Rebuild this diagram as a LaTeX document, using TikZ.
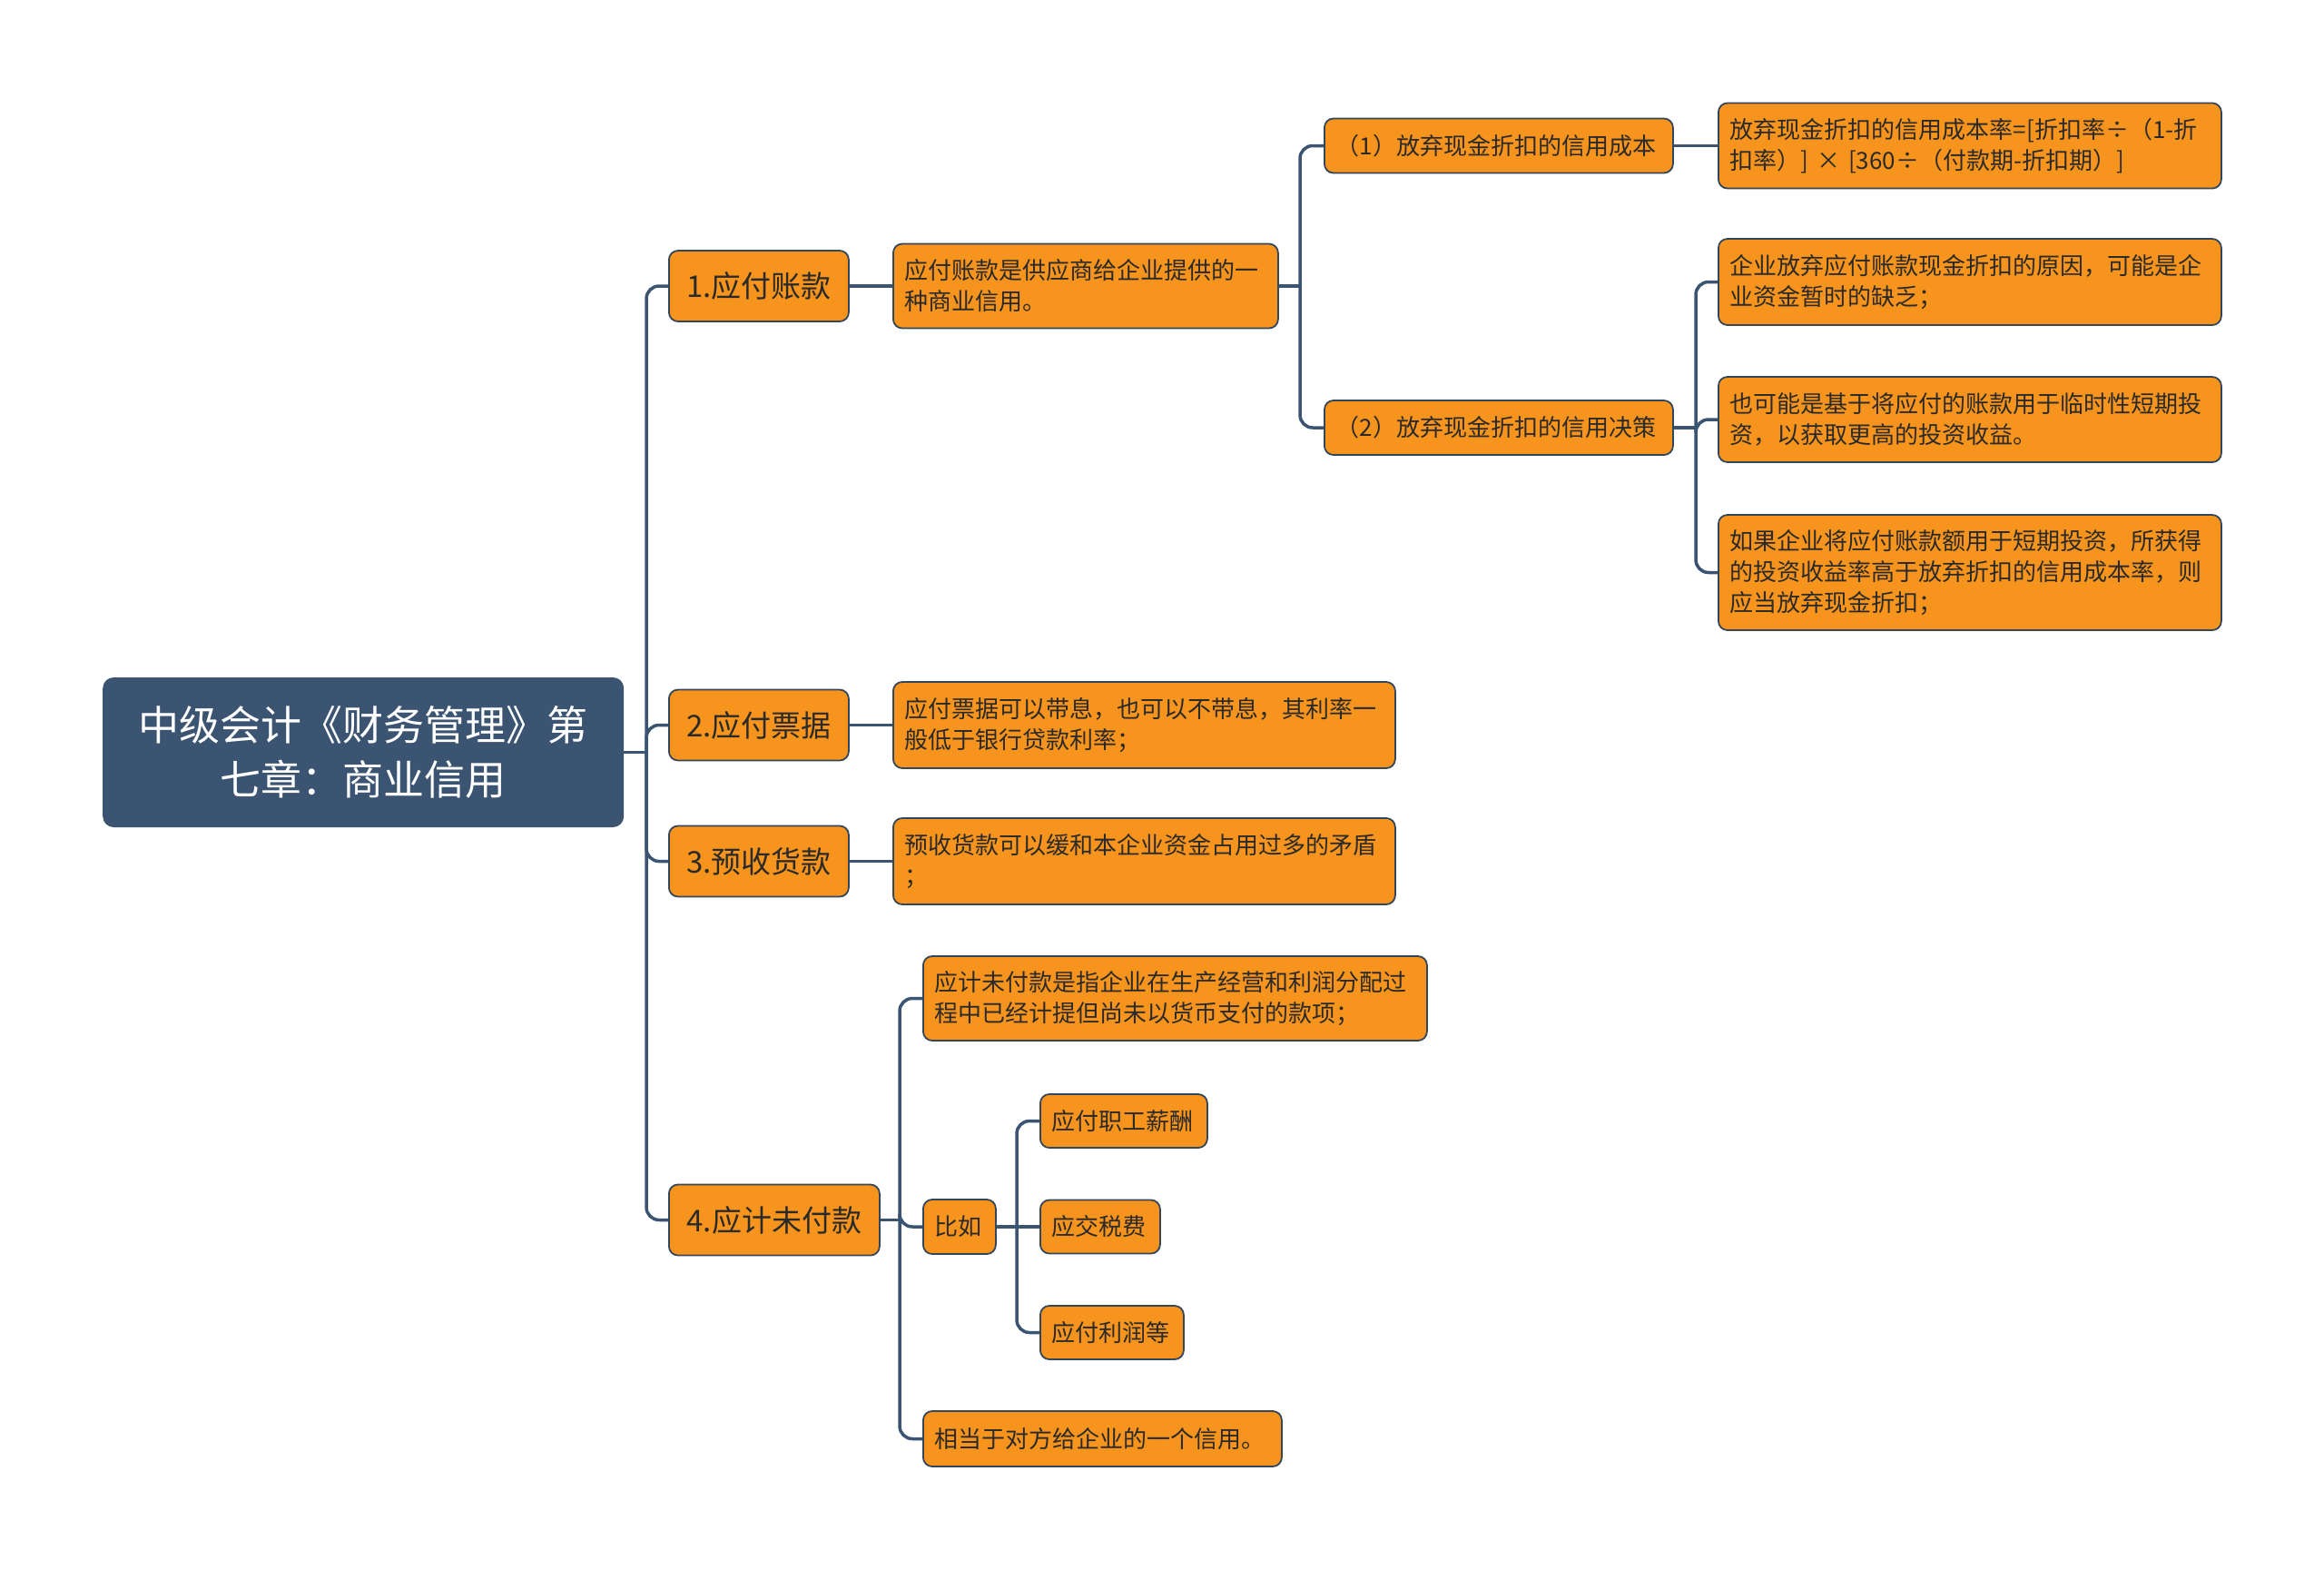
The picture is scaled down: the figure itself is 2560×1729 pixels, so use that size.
\documentclass[tikz,border=0pt]{standalone}
\usepackage{fontspec}
\setmainfont{Noto Sans CJK SC}

\definecolor{navy}{HTML}{3A5471}
\definecolor{amber}{HTML}{F7941D}
\definecolor{rim}{HTML}{34465A}
\definecolor{ink}{HTML}{2A2A2A}

\newcommand{\rootfont}{\fontsize{45pt}{60pt}\selectfont}
\newcommand{\headfont}{\fontsize{33pt}{40pt}\selectfont}
\newcommand{\leaffont}{\fontsize{26pt}{34pt}\selectfont}

\begin{document}
\begin{tikzpicture}[x=1pt,y=-1pt,
    box/.style={draw=rim,line width=1.8pt,fill=amber,text=ink,rounded corners=10pt,anchor=west,inner xsep=13pt,inner ysep=0pt},
    head/.style={box,font=\headfont,minimum width=#1,minimum height=78pt,align=center},
    leaf/.style={box,font=\leaffont,text width=#1,align=left},
    link/.style={draw=navy,line width=3.5pt,rounded corners=14pt}]

    % Canvas
    \fill[white] (0,0) rectangle (2560,1729);
    \useasboundingbox (0,0) rectangle (2560,1729);

    % Central topic
    \node[fill=navy,text=white,rounded corners=12pt,anchor=west,minimum width=574pt,minimum height=165pt,
          align=center,font=\rootfont] (root) at (113,828.5) {中级会计《财务管理》第\\七章：商业信用};

    % Main branches
    \node[head=198pt] (pay) at (736,315) {1.应付账款};
    \node[head=198pt] (bill) at (736,798.5) {2.应付票据};
    \node[head=198pt] (advance) at (736,948.5) {3.预收货款};
    \node[head=232pt] (accrued) at (736,1343.5) {4.应计未付款};

    % Branch 1: accounts payable
    \node[leaf=398pt,minimum height=93pt] (payinfo) at (983,315) {应付账款是供应商给企业提供的一\\种商业信用。};
    \node[leaf=358pt,minimum height=60pt] (cost) at (1458,160.5) {（1）放弃现金折扣的信用成本};
    \node[leaf=358pt,minimum height=60pt] (decision) at (1458,471) {（2）放弃现金折扣的信用决策};
    \node[leaf=528pt,minimum height=94pt] (formula) at (1892,160.5) {放弃现金折扣的信用成本率=[折扣率÷（1-折\\扣率）] × [360÷（付款期-折扣期）]};
    \node[leaf=528pt,minimum height=95pt] (reason) at (1892,310.5) {企业放弃应付账款现金折扣的原因，可能是企\\业资金暂时的缺乏；};
    \node[leaf=528pt,minimum height=94pt] (invest) at (1892,462) {也可能是基于将应付的账款用于临时性短期投\\资，以获取更高的投资收益。};
    \node[leaf=528pt,minimum height=127pt] (rule) at (1892,630.5) {如果企业将应付账款额用于短期投资，所获得\\的投资收益率高于放弃折扣的信用成本率，则\\应当放弃现金折扣；};

    % Branches 2 and 3
    \node[leaf=527pt,minimum height=95pt] (billinfo) at (983,798.5) {应付票据可以带息，也可以不带息，其利率一\\般低于银行贷款利率；};
    \node[leaf=527pt,minimum height=95pt] (advinfo) at (983,948.5) {预收货款可以缓和本企业资金占用过多的矛盾\\；};

    % Branch 4: accrued items
    \node[leaf=529pt,minimum height=93pt] (define) at (1016,1099.5) {应计未付款是指企业在生产经营和利润分配过\\程中已经计提但尚未以货币支付的款项；};
    \node[leaf=54pt,minimum height=60pt] (example) at (1016,1351) {比如};
    \node[leaf=369pt,minimum height=61pt] (credit) at (1016,1584.5) {相当于对方给企业的一个信用。};
    \node[leaf=158pt,minimum height=59pt] (wage) at (1145,1234.5) {应付职工薪酬};
    \node[leaf=106pt,minimum height=59pt] (tax) at (1145,1351) {应交税费};
    \node[leaf=132pt,minimum height=59pt] (profit) at (1145,1467.5) {应付利润等};

    % Junctions
    \coordinate (j0) at (712,828.5);
    \coordinate (j1) at (1432,315);
    \coordinate (j2) at (1868,471);
    \coordinate (j3) at (991,1343.5);
    \coordinate (j4) at (1120,1351);

    % Root connectors
    \draw[link] (root.east) -- (j0);
    \draw[link] (j0) |- (pay.west);
    \draw[link] (j0) |- (bill.west);
    \draw[link] (j0) |- (advance.west);
    \draw[link] (j0) |- (accrued.west);

    % Branch connectors
    \draw[link] (pay.east) -- (payinfo.west);
    \draw[link] (bill.east) -- (billinfo.west);
    \draw[link] (advance.east) -- (advinfo.west);
    \draw[link] (payinfo.east) -- (j1);
    \draw[link] (j1) |- (cost.west);
    \draw[link] (j1) |- (decision.west);
    \draw[link] (cost.east) -- (formula.west);
    \draw[link] (decision.east) -- (j2);
    \draw[link] (j2) |- (reason.west);
    \draw[link] (j2) |- (invest.west);
    \draw[link] (j2) |- (rule.west);
    \draw[link] (accrued.east) -- (j3);
    \draw[link] (j3) |- (define.west);
    \draw[link] (j3) |- (example.west);
    \draw[link] (j3) |- (credit.west);
    \draw[link] (example.east) -- (j4);
    \draw[link] (j4) |- (wage.west);
    \draw[link] (j4) -- (tax.west);
    \draw[link] (j4) |- (profit.west);
\end{tikzpicture}
\end{document}
